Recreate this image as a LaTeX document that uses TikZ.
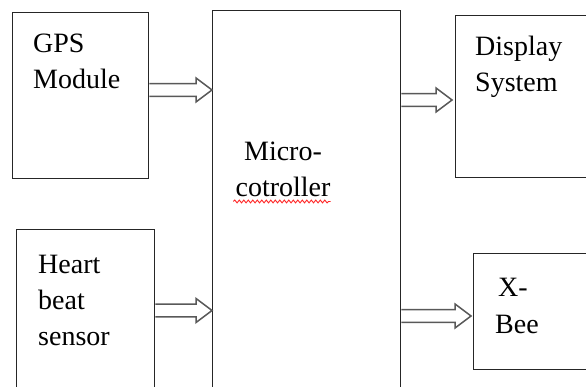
\documentclass[tikz,border=0pt]{standalone}
\usepackage{fontspec}
\setmainfont{Liberation Serif}
\usetikzlibrary{calc, decorations.pathmorphing}

% hollow block arrow between two named coordinates
\newcommand{\hollowarrow}[2]{%
	\draw[flow] ($(#1)+(0,-6.3)$) -- ($(#2)+(-16,-6.3)$) -- ($(#2)+(-16,-12)$) -- (#2)
		-- ($(#2)+(-16,12)$) -- ($(#2)+(-16,6.3)$) -- ($(#1)+(0,6.3)$);
}

\begin{document}
\begin{tikzpicture}[x=1pt, y=-1pt]

		\tikzset{
			block/.style={
					draw=black!85, line width=1.4pt, inner sep=0pt, anchor=north west
				},
			caption/.style={
					font=\fontsize{28}{36}\selectfont, inner sep=0pt, align=left, anchor=base west
				},
			flow/.style={
					draw=black!65, line width=1.5pt, fill=white
				},
			spell/.style={
					draw=red!85, line width=0.9pt, decorate, decoration={snake, amplitude=1.4pt, segment length=4.5pt}
				},
		}
		\clip (0,0) rectangle (586,387);

		\node[block, minimum width=136pt, minimum height=166pt](gps) at (12,12){};
		\node[block, minimum width=138pt, minimum height=200pt](heart) at (16,229){};
		\node[block, minimum width=188pt, minimum height=400pt](micro) at (212,10){};
		\node[block, minimum width=160pt, minimum height=162pt](display) at (455,15){};
		\node[block, minimum width=140pt, minimum height=116pt](xbee) at (473,253){};

		% base anchor sits on the last line
		\node[caption](gpstext) at ($(gps.north west)+(21,77)$){GPS\\Module};
		\node[caption](hearttext) at ($(heart.north west)+(22,116)$){Heart\\beat\\sensor};
		\node[caption, align=center, anchor=base](microtext) at ($(micro.north west)+(71,187)$){Micro-\\cotroller};
		\node[caption](displaytext) at ($(display.north west)+(20,77)$){Display\\System};
		\node[caption](xbeetext) at ($(xbee.north west)+(22,80)$){\hspace*{3pt}X-\\Bee};

		\draw[spell] ($(microtext.south west)+(-2,4)$) -- ($(microtext.south east)+(0,4)$);

		\path (gps.north east) ++(0,78) coordinate (gpsout);
		\path (heart.north east) ++(0,81.5) coordinate (heartout);
		\path (micro.north east) ++(0,90) coordinate (dispout);
		\path (micro.north east) ++(0,306) coordinate (xbeeout);
		\coordinate (gpsin) at (gpsout -| micro.west);
		\coordinate (heartin) at (heartout -| micro.west);
		\coordinate (dispin) at ($(dispout -| display.west)+(-3,0)$);
		\coordinate (xbeein) at ($(xbeeout -| xbee.west)+(-2,0)$);

		\hollowarrow{gpsout}{gpsin}
		\hollowarrow{heartout}{heartin}
		\hollowarrow{dispout}{dispin}
		\hollowarrow{xbeeout}{xbeein}

	\end{tikzpicture}
\end{document}
